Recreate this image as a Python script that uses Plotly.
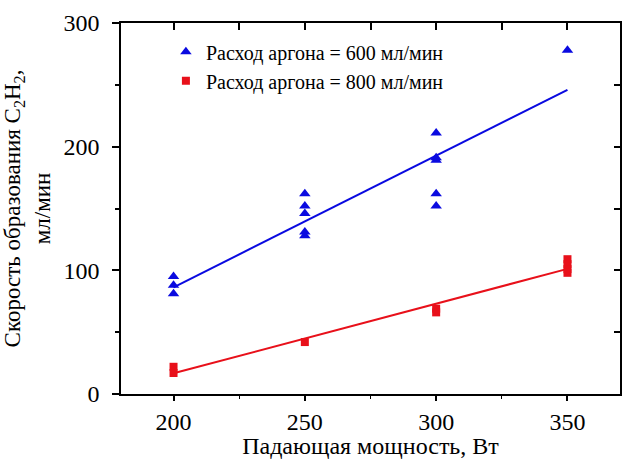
import numpy as np
import plotly.graph_objects as go

# Data
power_600 = [200, 200, 200, 250, 250, 250, 250, 250, 300, 300, 300, 300, 300, 350]
rate_600 = [95, 88, 81, 162, 152, 146, 131, 128, 211, 191, 189, 162, 152, 278]
power_800 = [200, 200, 250, 300, 300, 350, 350, 350, 350]
rate_800 = [22, 17, 42, 69, 66, 109, 105, 101, 98]
label_600 = "Расход аргона = 600 мл/мин"
label_800 = "Расход аргона = 800 мл/мин"
x_ticks = [200, 250, 300, 350]
y_ticks = [0, 100, 200, 300]

BLUE = "#0a0ae0"
RED = "#e8101a"
FONT = "Liberation Serif"


def fit_line(xs, ys):
    k, b = np.polyfit(xs, ys, 1)
    xl = [min(xs), max(xs)]
    return xl, [k * v + b for v in xl]


fig = go.Figure()

fx, fy = fit_line(power_600, rate_600)
fig.add_trace(go.Scatter(x=fx, y=fy, mode="lines", line=dict(color=BLUE, width=2),
                         showlegend=False, hoverinfo="skip"))
fx, fy = fit_line(power_800, rate_800)
fig.add_trace(go.Scatter(x=fx, y=fy, mode="lines", line=dict(color=RED, width=2),
                         showlegend=False, hoverinfo="skip"))

fig.add_trace(go.Scatter(x=power_600, y=rate_600, mode="markers", name=label_600,
                         marker=dict(symbol="triangle-up", size=10, color=BLUE)))
fig.add_trace(go.Scatter(x=power_800, y=rate_800, mode="markers", name=label_800,
                         marker=dict(symbol="square", size=8, color=RED)))

# invisible copy on the mirrored top/right axes so that they get drawn
fig.add_trace(go.Scatter(x=power_800, y=rate_800, xaxis="x2", yaxis="y2", mode="markers",
                         marker=dict(opacity=0), showlegend=False, hoverinfo="skip"))

axis_common = dict(showgrid=False, zeroline=False, showline=True, linecolor="black",
                   linewidth=1.5, tickcolor="black", tickwidth=1.5, automargin=False)
tick_font = dict(family=FONT, size=24, color="black")

fig.update_layout(
    width=622, height=459,
    margin=dict(l=121, r=2, t=23, b=65),
    paper_bgcolor="white", plot_bgcolor="white",
    font=dict(family=FONT, size=24, color="black"),
    xaxis=dict(range=[180, 370], tickvals=x_ticks, ticks="outside", ticklen=5, mirror=True,
               minor=dict(dtick=25, ticks="outside", ticklen=3, tickcolor="black", tickwidth=1.2),
               title=dict(text="Падающая мощность, Вт", font=dict(family=FONT, size=24), standoff=6),
               tickfont=tick_font, **axis_common),
    yaxis=dict(range=[0, 300], tickvals=y_ticks, ticks="outside", ticklen=7, mirror=True,
               minor=dict(dtick=50, ticks="outside", ticklen=4, tickcolor="black", tickwidth=1.5),
               title=dict(text="Скорость образования C<sub>2</sub>H<sub>2</sub>,<br>мл/мин",
                          font=dict(family=FONT, size=23), standoff=7),
               tickfont=tick_font, ticklabelstandoff=8, **axis_common),
    xaxis2=dict(range=[180, 370], overlaying="x", side="top", anchor="y",
                tickvals=x_ticks, ticks="inside", ticklen=7, showticklabels=False,
                minor=dict(dtick=25, ticks="inside", ticklen=7, tickcolor="black", tickwidth=1.5),
                **axis_common),
    yaxis2=dict(range=[0, 300], overlaying="y", side="right", anchor="x",
                tickvals=y_ticks, ticks="inside", ticklen=6, showticklabels=False,
                minor=dict(dtick=50, ticks="inside", ticklen=6, tickcolor="black", tickwidth=1.5),
                **axis_common),
    legend=dict(x=0.09, y=0.975, xanchor="left", yanchor="top", bgcolor="rgba(0,0,0,0)",
                font=dict(family=FONT, size=20), tracegroupgap=0, itemwidth=30),
)

fig.write_html("out.html", config={"displayModeBar": False},
               post_script="document.body.style.margin='0';")
